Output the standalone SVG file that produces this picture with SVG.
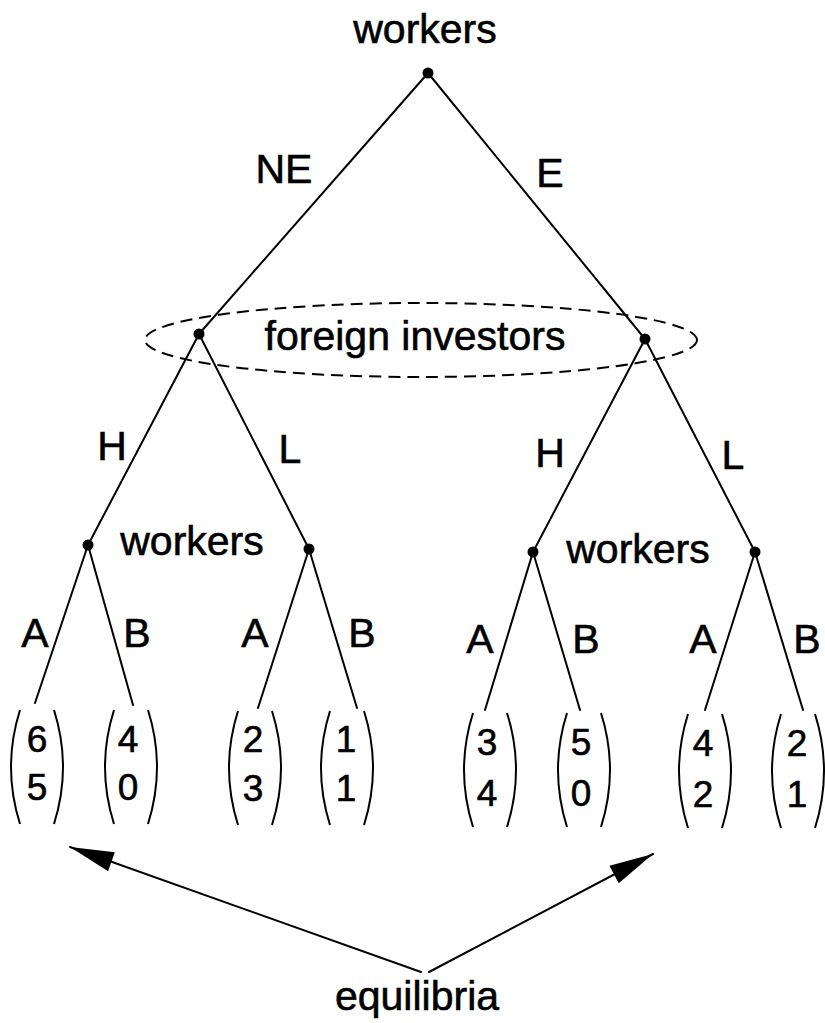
<svg xmlns="http://www.w3.org/2000/svg" width="825" height="1023" viewBox="0 0 825 1023">
  <style>
    .edge { stroke: #000; stroke-width: 2; fill: none; stroke-linecap: round; }
    .dot { fill: #000; }
    .lbl { font-family: "Liberation Sans", Arial, sans-serif; font-size: 41px; fill: #000; stroke: #000; stroke-width: 0.6; text-anchor: middle; }
    .num { font-family: "Liberation Sans", Arial, sans-serif; font-size: 37px; fill: #000; stroke: #000; stroke-width: 0.6; text-anchor: middle; }
    .paren { stroke: #000; stroke-width: 2; fill: none; }
    .infoset { stroke: #000; stroke-width: 2; fill: none; stroke-dasharray: 12 7; }
  </style>
  <defs>
    <marker id="arrowhead" markerUnits="userSpaceOnUse" viewBox="-46 -12 48 24" markerWidth="48" markerHeight="24" refX="0" refY="0" orient="auto">
      <path d="M0,0 L-44,-10 L-44,10 Z" fill="#000"/>
    </marker>
    <!-- payoff vector brackets, drawn around a centre at x=0 -->
    <g id="brackets">
      <path class="paren" d="M-17,0 Q-35,57 -17,114"/>
      <path class="paren" d="M17,0 Q35,57 17,114"/>
    </g>
  </defs>

  <rect width="825" height="1023" fill="#fff"/>

  <!-- game tree branches -->
  <g id="connectors">
    <line class="edge" x1="428" y1="73" x2="199" y2="334"/>
    <line class="edge" x1="428" y1="73" x2="645" y2="339"/>
    <line class="edge" x1="199" y1="334" x2="88" y2="545"/>
    <line class="edge" x1="199" y1="334" x2="309" y2="549"/>
    <line class="edge" x1="645" y1="339" x2="533" y2="552"/>
    <line class="edge" x1="645" y1="339" x2="755" y2="552"/>
    <line class="edge" x1="88" y1="545" x2="35" y2="703"/>
    <line class="edge" x1="88" y1="545" x2="133" y2="705"/>
    <line class="edge" x1="309" y1="549" x2="258" y2="708"/>
    <line class="edge" x1="309" y1="549" x2="357" y2="708"/>
    <line class="edge" x1="533" y1="552" x2="485" y2="710"/>
    <line class="edge" x1="533" y1="552" x2="580" y2="710"/>
    <line class="edge" x1="755" y1="552" x2="705" y2="710"/>
    <line class="edge" x1="755" y1="552" x2="803" y2="710"/>
    <!-- pointers to the equilibrium outcomes -->
    <line class="edge" x1="421" y1="972" x2="70" y2="847" marker-end="url(#arrowhead)"/>
    <line class="edge" x1="429" y1="972" x2="653" y2="854" marker-end="url(#arrowhead)"/>
  </g>

  <!-- branch labels -->
  <g id="branch-labels">
    <text class="lbl" x="284" y="183">NE</text>
    <text class="lbl" x="550" y="187">E</text>
    <text class="lbl" x="112" y="460">H</text>
    <text class="lbl" x="290" y="463">L</text>
    <text class="lbl" x="550" y="467">H</text>
    <text class="lbl" x="733" y="469">L</text>
    <text class="lbl" x="35" y="647">A</text>
    <text class="lbl" x="137" y="647">B</text>
    <text class="lbl" x="255" y="647">A</text>
    <text class="lbl" x="362" y="647">B</text>
    <text class="lbl" x="480" y="653">A</text>
    <text class="lbl" x="586" y="653">B</text>
    <text class="lbl" x="703" y="653">A</text>
    <text class="lbl" x="807" y="653">B</text>
  </g>

  <!-- decision nodes -->
  <g id="node-root">
    <circle class="dot" cx="428" cy="73" r="5.5"/>
    <text class="lbl" x="425" y="43">workers</text>
  </g>

  <g id="node-investors">
    <ellipse class="infoset" cx="421" cy="340" rx="276" ry="37"/>
    <circle class="dot" cx="199" cy="334" r="5.5"/>
    <circle class="dot" cx="645" cy="339" r="5.5"/>
    <text class="lbl" x="415" y="350">foreign investors</text>
  </g>

  <g id="node-workers-ne">
    <circle class="dot" cx="88" cy="545" r="5.5"/>
    <circle class="dot" cx="309" cy="549" r="5.5"/>
    <text class="lbl" x="192" y="555">workers</text>
  </g>

  <g id="node-workers-e">
    <circle class="dot" cx="533" cy="552" r="5.5"/>
    <circle class="dot" cx="755" cy="552" r="5.5"/>
    <text class="lbl" x="638" y="563">workers</text>
  </g>

  <!-- terminal payoffs -->
  <g id="payoff-1">
    <use href="#brackets" x="37" y="710"/>
    <text class="num" x="37" y="752">6</text>
    <text class="num" x="37" y="800">5</text>
  </g>
  <g id="payoff-2">
    <use href="#brackets" x="131" y="710"/>
    <text class="num" x="128" y="752">4</text>
    <text class="num" x="128" y="800">0</text>
  </g>
  <g id="payoff-3">
    <use href="#brackets" x="255" y="711"/>
    <text class="num" x="253" y="752">2</text>
    <text class="num" x="253" y="801">3</text>
  </g>
  <g id="payoff-4">
    <use href="#brackets" x="347" y="711"/>
    <text class="num" x="346" y="752">1</text>
    <text class="num" x="346" y="801">1</text>
  </g>
  <g id="payoff-5">
    <use href="#brackets" x="490" y="713"/>
    <text class="num" x="487" y="755">3</text>
    <text class="num" x="487" y="806">4</text>
  </g>
  <g id="payoff-6">
    <use href="#brackets" x="584" y="713"/>
    <text class="num" x="581" y="755">5</text>
    <text class="num" x="581" y="806">0</text>
  </g>
  <g id="payoff-7">
    <use href="#brackets" x="705" y="714"/>
    <text class="num" x="703" y="756">4</text>
    <text class="num" x="703" y="807">2</text>
  </g>
  <g id="payoff-8">
    <use href="#brackets" x="798" y="714"/>
    <text class="num" x="797" y="756">2</text>
    <text class="num" x="797" y="807">1</text>
  </g>

  <g id="caption">
    <text class="lbl" x="417" y="1010">equilibria</text>
  </g>
</svg>
